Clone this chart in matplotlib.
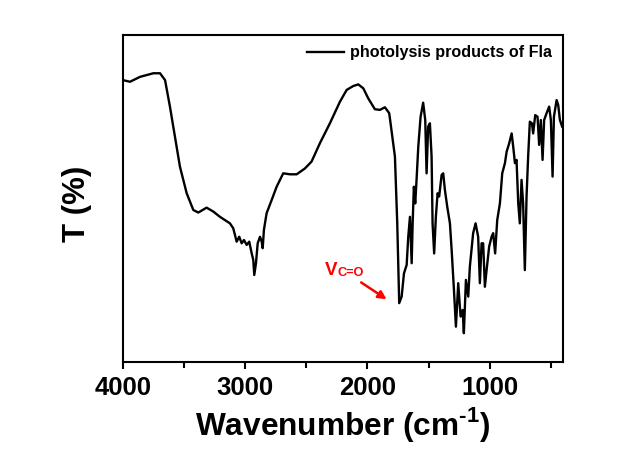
import matplotlib
matplotlib.use('Agg')
import matplotlib.pyplot as plt
from matplotlib.ticker import MultipleLocator

plt.rcParams['font.family'] = ['Liberation Sans', 'DejaVu Sans']
plt.rcParams['font.weight'] = 'bold'
plt.rcParams['mathtext.fontset'] = 'custom'
plt.rcParams['mathtext.bf'] = 'Liberation Sans:bold'
plt.rcParams['mathtext.rm'] = 'Liberation Sans:bold'

# FTIR 光谱数据
wavenumber = [4000, 3943, 3861, 3752, 3697, 3656, 3616, 3575, 3534, 3479,
              3425, 3384, 3316, 3261, 3207, 3125, 3098, 3070, 3049, 3029,
              3010, 2988, 2967, 2947, 2934, 2926, 2912, 2898, 2879, 2865,
              2857, 2847, 2825, 2784, 2743, 2689, 2634, 2579, 2511, 2457,
              2389, 2307, 2225, 2170, 2116, 2075, 2034, 1993, 1939, 1898,
              1857, 1822, 1816, 1775, 1756, 1740, 1720, 1701, 1679, 1666,
              1652, 1638, 1630, 1620, 1609, 1598, 1584, 1565, 1544, 1527,
              1516, 1503, 1489, 1475, 1467, 1454, 1440, 1426, 1413, 1393,
              1380, 1366, 1347, 1325, 1311, 1292, 1276, 1257, 1238, 1221,
              1211, 1194, 1175, 1162, 1135, 1115, 1094, 1080, 1066, 1053,
              1039, 1025, 1004, 984, 971, 955, 938, 916, 897, 875,
              861, 840, 820, 807, 793, 780, 766, 753, 739, 726,
              712, 698, 685, 671, 654, 644, 627, 608, 595, 581,
              567, 554, 534, 513, 499, 485, 474, 452, 439, 425,
              407]
transmittance = [86.2, 85.7, 87.2, 88.3, 88.3, 86.2, 78.1, 68.9, 59.7, 51.6,
                 46.5, 45.7, 47.2, 46.0, 44.4, 42.4, 40.9, 36.8, 38.3, 36.3,
                 37.3, 35.8, 36.8, 33.2, 31.2, 26.6, 30.2, 36.3, 38.3, 36.8,
                 34.8, 40.4, 45.5, 49.5, 53.6, 57.7, 57.4, 57.4, 59.2, 61.3,
                 66.9, 73.0, 79.6, 83.2, 84.4, 84.9, 83.7, 80.6, 77.3, 77.1,
                 77.9, 76.1, 74.5, 62.8, 42.4, 18.0, 20.0, 27.1, 29.7, 38.3,
                 44.4, 30.2, 42.4, 53.6, 48.5, 55.7, 65.8, 75.0, 79.3, 74.0,
                 57.7, 72.0, 73.0, 62.8, 42.4, 33.2, 44.4, 51.6, 50.6, 57.2,
                 57.7, 52.6, 47.5, 42.4, 34.3, 22.0, 10.8, 24.1, 13.9, 15.9,
                 8.8, 25.1, 20.0, 29.1, 39.4, 42.4, 38.3, 24.1, 36.3, 36.3,
                 23.0, 28.1, 35.3, 38.3, 39.4, 33.2, 43.4, 48.5, 57.7, 60.8,
                 64.3, 66.9, 69.9, 65.8, 60.8, 61.8, 48.5, 42.4, 55.7, 48.5,
                 28.1, 50.6, 62.8, 73.5, 73.0, 69.9, 75.5, 75.0, 66.4, 74.0,
                 61.8, 74.0, 76.1, 78.1, 74.0, 56.7, 75.0, 80.1, 78.6, 74.0,
                 72.0]

xticks = [4000, 3000, 2000, 1000]

fig = plt.figure(figsize=(6.38, 4.5), dpi=100)
ax = fig.add_axes([0.1928, 0.1956, 0.6896, 0.7266])

ax.plot(wavenumber, transmittance, color='black', lw=1.7,
        label='photolysis products of Fla')

ax.set_xlim(4000, 400)
ax.set_ylim(0, 100)
ax.set_xticks(xticks)
ax.xaxis.set_minor_locator(MultipleLocator(500))
ax.set_yticks([])
ax.tick_params(axis='x', which='major', direction='out', length=5, width=1.5,
               labelsize=18.5, pad=5)
ax.tick_params(axis='x', which='minor', direction='out', length=4, width=1.5)
for sp in ax.spines.values():
    sp.set_linewidth(1.5)

ax.set_xlabel('Wavenumber (cm$^{\\text{-1}}$)', fontsize=22.8, fontweight='bold', labelpad=4)
ax.set_ylabel('T (%)', fontsize=22.5, fontweight='bold')
ax.yaxis.set_label_coords(-0.07, 0.485)

# C=O 标注
ax.annotate('', xy=(1824, 18.7), xytext=(2070, 24.8),
            arrowprops=dict(arrowstyle='-|>', color='red', lw=1.8,
                            mutation_scale=12))
ax.text(2350, 26.6, 'V', color='red', fontsize=13.5, fontweight='bold',
        ha='left', va='baseline')
ax.annotate('C=O', xy=(2350, 26.6), xytext=(9.5, -0.5), textcoords='offset points',
            color='red', fontsize=9.2, fontweight='bold', ha='left', va='baseline')

ax.legend(loc='upper right', frameon=False, handlelength=2.3,
          handletextpad=0.4, borderaxespad=0.25, prop={'weight': 'bold', 'size': 11.6})

fig.savefig('out.png', dpi=100, facecolor='white')
